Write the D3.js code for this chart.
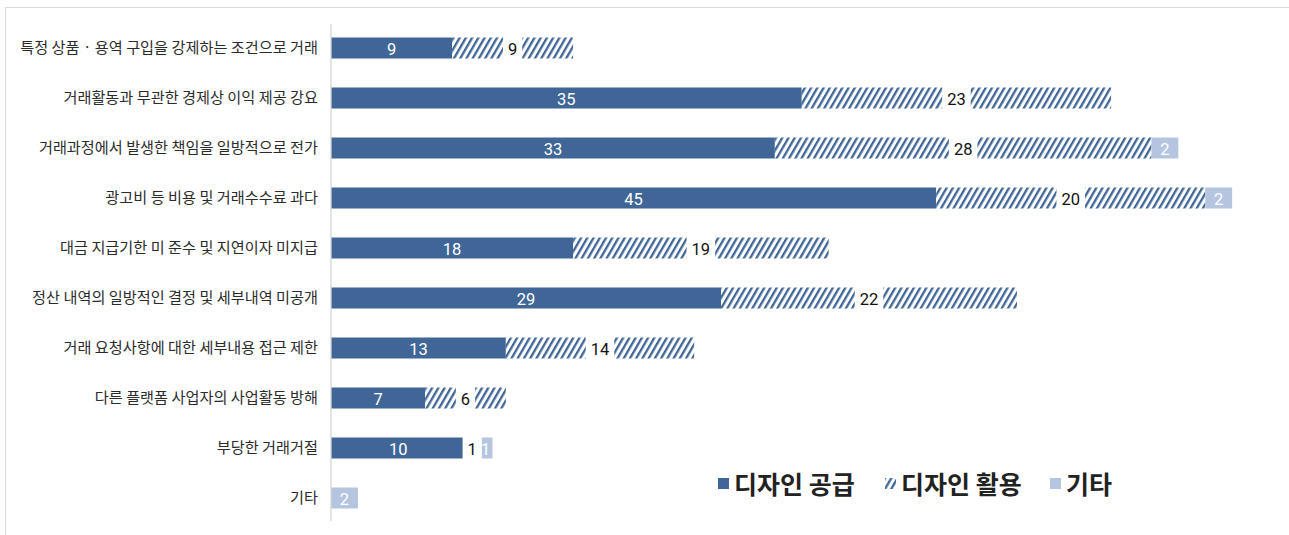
<!DOCTYPE html>
<html>
<head>
<meta charset="utf-8">
<script src="https://cdn.jsdelivr.net/npm/d3@7"></script>
<style>
  html, body { margin: 0; padding: 0; background: #fff; }
  svg { display: block; font-family: "Noto Sans CJK KR", "Noto Sans", sans-serif; }
</style>
</head>
<body>
<svg id="chart" width="1289" height="535"></svg>
<script>
const categories = [
  "특정 상품 · 용역 구입을 강제하는 조건으로 거래",
  "거래활동과 무관한 경제상 이익 제공 강요",
  "거래과정에서 발생한 책임을 일방적으로 전가",
  "광고비 등 비용 및 거래수수료 과다",
  "대금 지급기한 미 준수 및 지연이자 미지급",
  "정산 내역의 일방적인 결정 및 세부내역 미공개",
  "거래 요청사항에 대한 세부내용 접근 제한",
  "다른 플랫폼 사업자의 사업활동 방해",
  "부당한 거래거절",
  "기타"
];
const seriesNames = ["디자인 공급", "디자인 활용", "기타"];
const supplyValues = [9, 35, 33, 45, 18, 29, 13, 7, 10, 0];
const useValues    = [9, 23, 28, 20, 19, 22, 14, 6, 1, 0];
const otherValues  = [0, 0, 2, 2, 0, 0, 0, 0, 1, 2];

const dark = "#3f6696";
const light = "#b5c5df";

const svg = d3.select("#chart");
const defs = svg.append("defs");

// diagonal hatch for the second series
const pat = defs.append("pattern")
  .attr("id", "hatch")
  .attr("patternUnits", "userSpaceOnUse")
  .attr("width", 5.4).attr("height", 8)
  .attr("patternTransform", "rotate(30)");
pat.append("rect").attr("width", 5.4).attr("height", 8).attr("fill", "#fff");
pat.append("rect").attr("x", 0).attr("width", 2.3).attr("height", 8).attr("fill", dark);

// light frame
svg.append("path")
  .attr("d", "M5.5,535 L5.5,7.5 L1289,7.5")
  .attr("fill", "none").attr("stroke", "#dcdcdc").attr("stroke-width", 1.2);

const x = d3.scaleLinear().domain([0, 70]).range([331, 331 + 13.45 * 70]);
const y = d3.scaleBand().domain(categories).range([23, 523]).paddingInner(0.58).paddingOuter(0.29);

const rows = categories.map((c, i) => ({
  cat: c,
  parts: [
    { s: 0, v: supplyValues[i] },
    { s: 1, v: useValues[i] },
    { s: 2, v: otherValues[i] }
  ]
}));
rows.forEach(r => {
  let acc = 0;
  r.parts.forEach(p => { p.x0 = acc; acc += p.v; p.x1 = acc; });
});

const fills = [dark, "url(#hatch)", light];
const numFont = "Roboto, 'Liberation Sans', sans-serif";

const g = svg.append("g");
rows.forEach(r => {
  const yc = y(r.cat);
  const h = y.bandwidth();
  r.parts.filter(p => p.v > 0).forEach(p => {
    g.append("rect")
      .attr("x", x(p.x0)).attr("y", yc)
      .attr("width", x(p.x1) - x(p.x0)).attr("height", h)
      .attr("fill", fills[p.s]);
  });
  r.parts.filter(p => p.v > 0).forEach(p => {
    const cx = (x(p.x0) + x(p.x1)) / 2;
    const cy = yc + h / 2 + 1;
    if (p.s === 1) {
      const t = g.append("text")
        .attr("x", cx).attr("y", cy)
        .attr("text-anchor", "middle").attr("dominant-baseline", "central")
        .attr("font-family", numFont)
        .attr("font-size", 16.5).attr("fill", "#111")
        .text(p.v);
      const bb = t.node().getBBox();
      g.insert("rect", () => t.node())
        .attr("x", bb.x - 5).attr("y", yc - 1)
        .attr("width", bb.width + 10).attr("height", h + 2)
        .attr("fill", "#fff");
    } else {
      g.append("text")
        .attr("x", cx).attr("y", cy)
        .attr("text-anchor", "middle").attr("dominant-baseline", "central")
        .attr("font-family", numFont)
        .attr("font-size", 16.5).attr("fill", "#fff")
        .text(p.v);
    }
  });
});

// category axis
const yAxis = svg.append("g")
  .attr("transform", "translate(331,0)")
  .call(d3.axisLeft(y).tickSize(0).tickPadding(13));
yAxis.select(".domain").attr("stroke", "#d6d6d6").attr("stroke-width", 1.3)
  .attr("d", "M0,24V521");
yAxis.selectAll("text")
  .attr("font-size", 15.2).attr("fill", "#2b2b2b")
  .attr("font-family", "'Noto Sans CJK KR', sans-serif");

// legend
const legendItems = [
  { name: seriesNames[0], fill: dark, x: 718 },
  { name: seriesNames[1], fill: "url(#hatch)", x: 885 },
  { name: seriesNames[2], fill: light, x: 1050 }
];
const lg = svg.append("g");
legendItems.forEach(d => {
  lg.append("rect").attr("x", d.x).attr("y", 478).attr("width", 11).attr("height", 11).attr("fill", d.fill);
  lg.append("text").attr("x", d.x + 16).attr("y", 494)
    .attr("font-size", 25).attr("font-weight", 700).attr("fill", "#222")
    .text(d.name);
});
</script>
</body>
</html>
